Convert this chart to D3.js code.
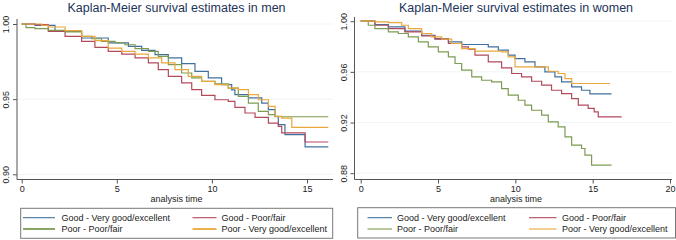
<!DOCTYPE html>
<html>
<head>
<meta charset="utf-8">
<script src="https://cdn.jsdelivr.net/npm/d3@7"></script>
<style>
  body { margin: 0; background: #fff; }
  svg { display: block; font-family: "Liberation Sans", Arial, sans-serif; }
</style>
</head>
<body>
<svg id="chart" width="676" height="240"></svg>
<script>
// group labels + colours (legend order)
var series_names = ["Good - Very good/excellent", "Good - Poor/fair", "Poor - Poor/fair", "Poor - Very good/excellent"];
var series_colors = ["#41709f", "#b34a5c", "#7d9b52", "#e9a83c"];

var men_ticks_x = [0, 5, 10, 15];
var men_ticks_y = [0.90, 0.95, 1.00];
var women_ticks_x = [0, 5, 10, 15, 20];
var women_ticks_y = [0.88, 0.92, 0.96, 1.00];

// [time, survival]
var men_good_vge = [[0,1],[0.70,0.9991],[1.75,0.9951],[3.15,0.9907],[4.55,0.9874],[5.61,0.9851],[6.31,0.9825],[7.01,0.9796],[7.71,0.9774],[8.41,0.9736],[9.11,0.9685],[9.81,0.9641],[10.51,0.9596],[11.04,0.9562],[11.21,0.9530],[11.92,0.9508],[12.62,0.9474],[12.97,0.9430],[13.32,0.9386],[13.49,0.9330],[13.84,0.9264],[14.90,0.9182],[16.12,0.9182]];
var men_good_pf = [[0,1],[0.70,0.9996],[1.40,0.9951],[2.28,0.9918],[3.15,0.9885],[3.85,0.9845],[4.55,0.9818],[5.26,0.9800],[5.96,0.9774],[6.66,0.9741],[7.18,0.9696],[7.71,0.9652],[8.41,0.9608],[8.94,0.9563],[9.46,0.9525],[10.16,0.9496],[10.86,0.9485],[11.21,0.9445],[11.74,0.9408],[12.27,0.9379],[12.97,0.9341],[13.49,0.9319],[13.67,0.9275],[14.90,0.9215],[16.12,0.9215]];
var men_poor_pf = [[0,1],[0.23,0.9976],[0.70,0.9969],[1.40,0.9958],[2.28,0.9947],[3.15,0.9918],[3.68,0.9902],[4.20,0.9885],[4.91,0.9874],[5.43,0.9862],[5.96,0.9836],[6.66,0.9818],[7.18,0.9785],[7.71,0.9730],[8.41,0.9674],[8.94,0.9641],[9.46,0.9618],[10.16,0.9601],[10.86,0.9574],[11.39,0.9519],[11.92,0.9474],[12.44,0.9419],[12.97,0.9397],[13.32,0.9383],[16.12,0.9383]];
var men_poor_vge = [[0,1],[1.05,0.9991],[1.40,0.9980],[2.28,0.9956],[3.15,0.9918],[3.85,0.9889],[4.55,0.9840],[5.26,0.9818],[5.96,0.9800],[6.66,0.9774],[7.36,0.9741],[8.06,0.9696],[8.76,0.9652],[9.46,0.9618],[10.16,0.9596],[10.86,0.9574],[11.39,0.9563],[11.92,0.9530],[12.44,0.9496],[12.97,0.9452],[13.32,0.9386],[13.67,0.9374],[14.20,0.9312],[16.12,0.9312]];

var women_good_vge = [[0,1],[0.92,0.9974],[1.79,0.9955],[2.86,0.9921],[3.94,0.9889],[4.80,0.9863],[5.67,0.9837],[6.53,0.9816],[8.25,0.9797],[8.90,0.9771],[9.54,0.9732],[9.98,0.9705],[10.62,0.9679],[11.27,0.9639],[11.91,0.9600],[12.56,0.9561],[12.99,0.9521],[13.64,0.9481],[14.28,0.9455],[14.82,0.9426],[16.22,0.9426]];
var women_good_pf = [[0,1],[0.92,0.9968],[1.79,0.9942],[2.86,0.9916],[3.94,0.9884],[4.80,0.9858],[5.67,0.9824],[6.53,0.9797],[6.96,0.9779],[7.39,0.9732],[8.25,0.9679],[9.11,0.9632],[9.76,0.9587],[10.40,0.9561],[11.05,0.9526],[11.70,0.9495],[12.34,0.9455],[12.99,0.9429],[13.64,0.9389],[14.07,0.9337],[14.71,0.9311],[15.10,0.9284],[15.36,0.9245],[16.87,0.9245]];
var women_poor_pf = [[0,1],[0.49,0.9968],[0.92,0.9942],[1.79,0.9916],[2.43,0.9903],[3.08,0.9876],[3.73,0.9837],[4.37,0.9797],[5.02,0.9758],[5.67,0.9718],[6.10,0.9666],[6.53,0.9613],[7.18,0.9561],[7.82,0.9534],[8.47,0.9521],[9.11,0.9468],[9.54,0.9416],[10.19,0.9376],[10.62,0.9337],[11.05,0.9297],[11.70,0.9258],[12.13,0.9205],[12.77,0.9166],[13.21,0.9087],[13.64,0.9021],[14.28,0.8995],[14.50,0.8942],[14.93,0.8863],[16.22,0.8863]];
var women_poor_vge = [[0,1],[0.92,0.9995],[1.79,0.9989],[2.65,0.9968],[3.08,0.9942],[3.94,0.9903],[4.59,0.9876],[5.24,0.9858],[5.88,0.9824],[6.53,0.9784],[7.39,0.9763],[9.11,0.9758],[9.54,0.9718],[9.98,0.9639],[12.13,0.9605],[12.77,0.9587],[13.21,0.9547],[13.64,0.9508],[16.12,0.9508]];

var svg = d3.select("#chart");

function km_panel(cfg) {
    var x = d3.scaleLinear().domain([0, cfg.x_ticks[cfg.x_ticks.length - 1]]).range(cfg.x_range);
    var y = d3.scaleLinear().domain([cfg.y_ticks[0], cfg.y_ticks[cfg.y_ticks.length - 1]]).range(cfg.y_range);
    var g = svg.append("g");

    // grid
    g.selectAll(".grid")
        .data(cfg.y_ticks)
        .enter().append("line")
            .attr("x1", cfg.left + 1)
            .attr("x2", cfg.right)
            .attr("y1", d => y(d))
            .attr("y2", d => y(d))
            .attr("stroke", "#eef5f6")
            .attr("stroke-width", 1);

    // curves
    var line = d3.line()
        .x(d => x(d[0]))
        .y(d => y(d[1]))
        .curve(d3.curveStepAfter);
    g.selectAll(".km")
        .data(cfg.series)
        .enter().append("path")
            .attr("d", d => line(d))
            .attr("fill", "none")
            .attr("stroke", (d, i) => series_colors[i])
            .attr("stroke-width", 1.2);

    // axes
    var xa = g.append("g")
        .attr("transform", "translate(0," + cfg.bottom + ")")
        .call(d3.axisBottom(x).tickValues(cfg.x_ticks).tickSize(4).tickPadding(2).tickFormat(d3.format("d")));
    var ya = g.append("g")
        .attr("transform", "translate(" + cfg.left + ",0)")
        .call(d3.axisLeft(y).tickValues(cfg.y_ticks).tickSize(4).tickFormat(d3.format(".2f")));
    [xa, ya].forEach(function(a) {
        a.select(".domain").remove();
        a.selectAll("line").attr("stroke", "#555");
        a.selectAll("text").attr("fill", "#222").attr("font-size", 9).attr("font-family", null);
    });
    ya.selectAll("text")
        .attr("x", null).attr("dy", null)
        .attr("text-anchor", "middle")
        .attr("transform", "translate(-8,0) rotate(-90)");

    g.append("path")
        .attr("d", "M" + cfg.left + "," + cfg.top + "V" + cfg.bottom + "H" + cfg.right)
        .attr("fill", "none")
        .attr("stroke", "#555")
        .attr("stroke-width", 1);

    g.append("text")
        .attr("x", cfg.title_x)
        .attr("y", 12)
        .attr("text-anchor", "middle")
        .attr("font-size", 12.5)
        .attr("fill", "#1c3359")
        .text(cfg.title);

    g.append("text")
        .attr("x", cfg.title_x)
        .attr("y", 202)
        .attr("text-anchor", "middle")
        .attr("font-size", 9)
        .attr("fill", "#222")
        .text("analysis time");

    // legend
    var lb = cfg.legend;
    g.append("rect")
        .attr("x", lb.x).attr("y", lb.y)
        .attr("width", lb.w).attr("height", lb.h)
        .attr("fill", "#fff")
        .attr("stroke", "#777")
        .attr("stroke-width", 1);
    var items = g.selectAll(".leg")
        .data(series_names)
        .enter().append("g")
            .attr("transform", (d, i) => "translate(0," + (i < 2 ? 217.7 : 229) + ")");
    items.append("line")
        .attr("x1", (d, i) => lb.cols[i % 2][0])
        .attr("x2", (d, i) => lb.cols[i % 2][1])
        .attr("stroke", (d, i) => series_colors[i])
        .attr("stroke-width", (d, i) => (i >= 2 ? lb.row2_width : 1.1));
    items.append("text")
        .attr("x", (d, i) => lb.cols[i % 2][2])
        .attr("dy", "0.35em")
        .attr("font-size", 9)
        .attr("fill", "#222")
        .text(d => d);
}

km_panel({
    title: "Kaplan-Meier survival estimates in men",
    title_x: 176.5,
    series: [men_good_vge, men_good_pf, men_poor_pf, men_poor_vge],
    x_ticks: men_ticks_x, y_ticks: men_ticks_y,
    x_range: [21.7, 307], y_range: [174.3, 24],
    left: 17, right: 333, top: 19, bottom: 179.5,
    legend: { x: 20.7, y: 208.3, w: 312, h: 30, row2_width: 1.8,
              cols: [[23, 55, 61.5], [192.5, 216.5, 221.5]] }
});

km_panel({
    title: "Kaplan-Meier survival estimates in women",
    title_x: 516,
    series: [women_good_vge, women_good_pf, women_poor_pf, women_poor_vge],
    x_ticks: women_ticks_x, y_ticks: women_ticks_y,
    x_range: [360.7, 670], y_range: [173.2, 21.2],
    left: 354.5, right: 672, top: 17, bottom: 179.5,
    legend: { x: 357.7, y: 207.7, w: 317.8, h: 30.3, row2_width: 1.1,
              cols: [[367.5, 392, 397], [529, 556.5, 562]] }
});
</script>
</body>
</html>
